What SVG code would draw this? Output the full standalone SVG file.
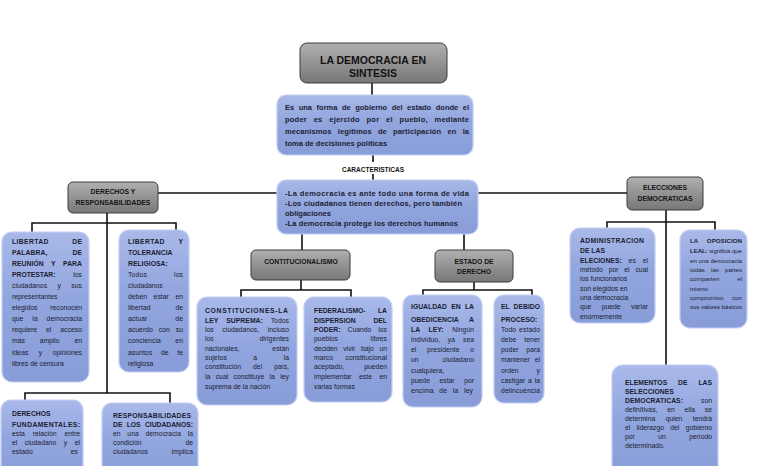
<svg xmlns="http://www.w3.org/2000/svg" width="768" height="466" viewBox="0 0 768 466">
<defs>
<linearGradient id="gb" x1="0" y1="0" x2="0" y2="1">
<stop offset="0" stop-color="#a9b9e9"/><stop offset="0.45" stop-color="#91a5de"/><stop offset="1" stop-color="#889cd8"/>
</linearGradient>
<linearGradient id="gg" x1="0" y1="0" x2="0" y2="1">
<stop offset="0" stop-color="#b0b0b0"/><stop offset="0.5" stop-color="#939393"/><stop offset="1" stop-color="#777777"/>
</linearGradient>
<style>
.bx{fill:url(#gb);stroke:#c2cef2;stroke-width:1.2}
.gx{fill:url(#gg);stroke:#3c3c3c;stroke-width:1}
.ln{stroke:#111;stroke-width:1.6;fill:none}
text{font-family:"Liberation Sans",Arial,sans-serif}
.t{font-size:6.8px;fill:#1a1d33}
.s{font-size:6.1px}
.h{font-weight:bold}
.d{font-size:7.5px;font-weight:bold;fill:#1c1f33}
.g{font-size:6.8px;font-weight:bold;fill:#141414;text-anchor:middle}
.ti{font-size:10.5px;font-weight:bold;fill:#111;text-anchor:middle}
</style>
</defs>
<rect width="768" height="466" fill="#ffffff"/>

<g id="connectors">
<line class="ln" x1="372" y1="83" x2="372" y2="95"/>
<line class="ln" x1="373" y1="155" x2="373" y2="162"/>
<line class="ln" x1="373" y1="174" x2="373" y2="180"/>
<line class="ln" x1="158" y1="193" x2="277" y2="193"/>
<line class="ln" x1="478" y1="193" x2="627" y2="193"/>
<line class="ln" x1="302" y1="234" x2="302" y2="250"/>
<line class="ln" x1="464" y1="234" x2="464" y2="250"/>
<line class="ln" x1="107" y1="213" x2="107" y2="393"/>
<polyline class="ln" points="32,232 32,223 176,223 176,230"/>
<polyline class="ln" points="25,400 25,393 170,393 170,403"/>
<line class="ln" x1="301" y1="280" x2="301" y2="290"/>
<polyline class="ln" points="241,297 241,290 351,290 351,297"/>
<line class="ln" x1="474" y1="282" x2="474" y2="290"/>
<polyline class="ln" points="423,295 423,290 532,290 532,295"/>
<line class="ln" x1="666" y1="210" x2="666" y2="365"/>
<polyline class="ln" points="607,228 607,222 715,222 715,230"/>
</g>

<g id="titulo">
<rect class="gx" x="300" y="43" width="147" height="40" rx="7"/>
<text class="ti" x="373" y="63.5">LA DEMOCRACIA EN</text>
<text class="ti" x="373" y="77">SINTESIS</text>
</g>

<g id="definicion">
<rect class="bx" x="277" y="95" width="196" height="60" rx="9"/>
<text class="d" x="285" y="110" textLength="184" style="word-spacing:2.5px">Es una forma de gobierno del estado donde el</text>
<text class="d" x="285" y="122" textLength="184" style="word-spacing:4.5px">poder es ejercido por el pueblo, mediante</text>
<text class="d" x="285" y="134" textLength="184" style="word-spacing:4px">mecanismos legítimos de participación en la</text>
<text class="d" x="285" y="146">toma de decisiones políticas</text>
</g>

<g id="caracteristicas-label">
<text class="g" x="373" y="171.5" style="font-size:6.5px">CARACTERISTICAS</text>
</g>

<g id="caracteristicas">
<rect class="bx" x="277" y="180" width="201" height="54" rx="9"/>
<text class="d" x="285" y="195.5" textLength="184">-La democracia es ante todo una forma de vida</text>
<text class="d" x="285" y="205.5" textLength="177">-Los ciudadanos tienen derechos, pero también</text>
<text class="d" x="285" y="215.5">obligaciones</text>
<text class="d" x="285" y="225.5" textLength="173">-La democracia protege los derechos humanos</text>
</g>

<g id="derechos">
<rect class="gx" x="68" y="182" width="90" height="31" rx="5"/>
<text class="g" x="113" y="194">DERECHOS Y</text>
<text class="g" x="113" y="205">RESPONSABILIDADES</text>
</g>

<g id="libertad-palabra">
<rect class="bx" x="2" y="232" width="87" height="150" rx="10"/>
<text class="t h" x="12" y="243.5" textLength="70" style="word-spacing:21px">LIBERTAD DE</text>
<text class="t h" x="12" y="254.6" textLength="70" style="word-spacing:23px">PALABRA, DE</text>
<text class="t h" x="12" y="265.7" textLength="70" style="word-spacing:5.5px">REUNIÓN Y PARA</text>
<text class="t" x="12" y="276.8" textLength="70" style="word-spacing:16px"><tspan class="h">PROTESTAR:</tspan> los</text>
<text class="t" x="12" y="287.9" textLength="70" style="word-spacing:8.5px">ciudadanos y sus</text>
<text class="t" x="12" y="299">representantes</text>
<text class="t" x="12" y="310.1" textLength="70" style="word-spacing:11px">elegidos reconocen</text>
<text class="t" x="12" y="321.2" textLength="70" style="word-spacing:7px">que la democracia</text>
<text class="t" x="12" y="332.3" textLength="70" style="word-spacing:7px">requiere el acceso</text>
<text class="t" x="12" y="343.4" textLength="70" style="word-spacing:13px">más amplio en</text>
<text class="t" x="12" y="354.5" textLength="70" style="word-spacing:8.5px">ideas y opiniones</text>
<text class="t" x="12" y="365.6">libres de censura</text>
</g>

<g id="libertad-religiosa">
<rect class="bx" x="119" y="230" width="70" height="142" rx="10"/>
<text class="t h" x="128" y="243.5" textLength="55" style="word-spacing:11.5px">LIBERTAD Y</text>
<text class="t h" x="128" y="254.6">TOLERANCIA</text>
<text class="t h" x="128" y="265.7">RELIGIOSA:</text>
<text class="t" x="128" y="276.8" textLength="55" style="word-spacing:25px">Todos los</text>
<text class="t" x="128" y="287.9">ciudadanos</text>
<text class="t" x="128" y="299" textLength="55" style="word-spacing:4.7px">deben estar en</text>
<text class="t" x="128" y="310.1" textLength="55" style="word-spacing:23px">libertad de</text>
<text class="t" x="128" y="321.2" textLength="55" style="word-spacing:26px">actuar de</text>
<text class="t" x="128" y="332.3" textLength="55" style="word-spacing:4px">acuerdo con su</text>
<text class="t" x="128" y="343.4" textLength="55" style="word-spacing:12.6px">conciencia en</text>
<text class="t" x="128" y="354.5" textLength="55" style="word-spacing:6.8px">asuntos de fe</text>
<text class="t" x="128" y="365.6">religiosa</text>
</g>

<g id="derechos-fundamentales">
<rect class="bx" x="1" y="400" width="82" height="90" rx="10"/>
<text class="t h" x="12" y="415.5">DERECHOS</text>
<text class="t h" x="12" y="426.5" textLength="68">FUNDAMENTALES:</text>
<text class="t" x="12" y="435.5" textLength="68" style="word-spacing:6px">esta relación entre</text>
<text class="t" x="12" y="444.5" textLength="68" style="word-spacing:5.5px">el ciudadano y el</text>
<text class="t" x="12" y="453.5" textLength="66" style="word-spacing:36px">estado es</text>
</g>

<g id="responsabilidades">
<rect class="bx" x="102" y="403" width="96" height="90" rx="10"/>
<text class="t h" x="113" y="417.5" textLength="78">RESPONSABILIDADES</text>
<text class="t h" x="113" y="427" textLength="80" style="word-spacing:2.5px">DE LOS CIUDADANOS:</text>
<text class="t" x="113" y="436" textLength="80" style="word-spacing:4.8px">en una democracia la</text>
<text class="t" x="113" y="445" textLength="80" style="word-spacing:42px">condición de</text>
<text class="t" x="113" y="454" textLength="80" style="word-spacing:22px">ciudadanos implica</text>
</g>

<g id="constitucionalismo">
<rect class="gx" x="251" y="250" width="99" height="30" rx="5"/>
<text class="g" x="301" y="263.5">CONTITUCIONALISMO</text>
</g>

<g id="constituciones">
<rect class="bx" x="197" y="297" width="100" height="108" rx="10"/>
<text class="t h" x="205" y="312.5" textLength="83">CONSTITUCIONES-LA</text>
<text class="t" x="205" y="322.5" textLength="84" style="word-spacing:6px"><tspan class="h">LEY SUPREMA:</tspan> Todos</text>
<text class="t" x="205" y="332" textLength="84" style="word-spacing:6.5px">los ciudadanos, incluso</text>
<text class="t" x="205" y="341" textLength="84" style="word-spacing:44px">los dirigentes</text>
<text class="t" x="205" y="351" textLength="84" style="word-spacing:31px">nacionales, están</text>
<text class="t" x="205" y="360" textLength="84" style="word-spacing:24.5px">sujetos a la</text>
<text class="t" x="205" y="369" textLength="84" style="word-spacing:10.2px">constitución del país,</text>
<text class="t" x="205" y="379" textLength="84" style="word-spacing:3.5px">la cual constituye la ley</text>
<text class="t" x="205" y="389">suprema de la nación</text>
</g>

<g id="federalismo">
<rect class="bx" x="304" y="297" width="88" height="105" rx="10"/>
<text class="t h" x="314" y="312.5" textLength="73" style="word-spacing:10.5px">FEDERALISMO- LA</text>
<text class="t h" x="314" y="322.5" textLength="73" style="word-spacing:16px">DISPERSION DEL</text>
<text class="t" x="314" y="332" textLength="73" style="word-spacing:5px"><tspan class="h">PODER:</tspan> Cuando los</text>
<text class="t" x="314" y="341" textLength="73" style="word-spacing:30.6px">pueblos libres</text>
<text class="t" x="314" y="351" textLength="73" style="word-spacing:3.9px">deciden vivir bajo un</text>
<text class="t" x="314" y="360" textLength="73" style="word-spacing:10.5px">marco constitucional</text>
<text class="t" x="314" y="369" textLength="73" style="word-spacing:18px">aceptado, pueden</text>
<text class="t" x="314" y="379" textLength="73" style="word-spacing:5.5px">implementar este en</text>
<text class="t" x="314" y="389">varias formas</text>
</g>

<g id="estado-derecho">
<rect class="gx" x="435" y="250" width="78" height="32" rx="5"/>
<text class="g" x="474" y="263.5">ESTADO DE</text>
<text class="g" x="474" y="274">DERECHO</text>
</g>

<g id="igualdad">
<rect class="bx" x="403" y="295" width="79" height="112" rx="10"/>
<text class="t h" x="411" y="309" textLength="63" style="word-spacing:2.4px">IGUALDAD EN LA</text>
<text class="t h" x="411" y="321.5" textLength="63" style="word-spacing:9px">OBEDICENCIA A</text>
<text class="t" x="411" y="332" textLength="63" style="word-spacing:6.6px"><tspan class="h">LA LEY:</tspan> Ningún</text>
<text class="t" x="411" y="342" textLength="63" style="word-spacing:6px">individuo, ya sea</text>
<text class="t" x="411" y="352" textLength="63" style="word-spacing:8.7px">el presidente o</text>
<text class="t" x="411" y="362" textLength="63" style="word-spacing:22px">un ciudadano</text>
<text class="t" x="411" y="372.5">cualquiera,</text>
<text class="t" x="411" y="382.5" textLength="63" style="word-spacing:7.6px">puede estar por</text>
<text class="t" x="411" y="392.5" textLength="62" style="word-spacing:3.6px">encima de la ley</text>
</g>

<g id="debido-proceso">
<rect class="bx" x="494" y="295" width="50" height="108" rx="10"/>
<text class="t h" x="501" y="309" textLength="39" style="word-spacing:2px">EL DEBIDO</text>
<text class="t h" x="501" y="321.5">PROCESO:</text>
<text class="t" x="501" y="332" textLength="39" style="word-spacing:1px">Todo estado</text>
<text class="t" x="501" y="342" textLength="39" style="word-spacing:6px">debe tener</text>
<text class="t" x="501" y="352" textLength="39" style="word-spacing:6px">poder para</text>
<text class="t" x="501" y="362" textLength="39" style="word-spacing:3px">mantener el</text>
<text class="t" x="501" y="372.5" textLength="39" style="word-spacing:16px">orden y</text>
<text class="t" x="501" y="382.5" textLength="39" style="word-spacing:1px">castigar a la</text>
<text class="t" x="501" y="392.5" textLength="39">delincuencia</text>
</g>

<g id="elecciones">
<rect class="gx" x="627" y="177" width="76" height="33" rx="5"/>
<text class="g" x="665" y="189.5">ELECCIONES</text>
<text class="g" x="665" y="200.5">DEMOCRATICAS</text>
</g>

<g id="administracion">
<rect class="bx" x="570" y="228" width="85" height="95" rx="10"/>
<text class="t h" x="580" y="243" textLength="64">ADMINISTRACION</text>
<text class="t h" x="580" y="252.5">DE LAS</text>
<text class="t" x="580" y="262.5" textLength="68" style="word-spacing:5px"><tspan class="h">ELECIONES:</tspan> es el</text>
<text class="t" x="580" y="272" textLength="68" style="word-spacing:3.8px">método por el cual</text>
<text class="t" x="580" y="281">los funcionarios</text>
<text class="t" x="580" y="291">son elegidos en</text>
<text class="t" x="580" y="300">una democracia</text>
<text class="t" x="580" y="309" textLength="68" style="word-spacing:8.3px">que puede variar</text>
<text class="t" x="580" y="318.5">enormemente</text>
</g>

<g id="oposicion">
<rect class="bx" x="680" y="230" width="67" height="98" rx="10"/>
<text class="t s h" x="690" y="243" textLength="52" style="word-spacing:7px">LA OPOSICION</text>
<text class="t s" x="690" y="252.5" textLength="52"><tspan class="h">LEAL:</tspan> significa que</text>
<text class="t s" x="690" y="262.5" textLength="52">en una democracia</text>
<text class="t s" x="690" y="272" textLength="52" style="word-spacing:4.5px">todas las partes</text>
<text class="t s" x="690" y="281" textLength="52" style="word-spacing:16px">comparten el</text>
<text class="t s" x="690" y="291">mismo</text>
<text class="t s" x="690" y="300" textLength="52" style="word-spacing:7px">compromiso con</text>
<text class="t s" x="690" y="309" textLength="52">sus valores básicos</text>
</g>

<g id="elementos">
<rect class="bx" x="612" y="365" width="106" height="120" rx="11"/>
<text class="t h" x="625" y="385" textLength="87" style="word-spacing:9px">ELEMENTOS DE LAS</text>
<text class="t h" x="625" y="394">SELECCIONES</text>
<text class="t" x="625" y="402.5" textLength="87" style="word-spacing:16px"><tspan class="h">DEMOCRATICAS:</tspan> son</text>
<text class="t" x="625" y="412" textLength="87" style="word-spacing:7.7px">definitivas, en ella se</text>
<text class="t" x="625" y="420.5" textLength="87" style="word-spacing:8.6px">determina quien tendrá</text>
<text class="t" x="625" y="429.5" textLength="87" style="word-spacing:4.5px">el liderazgo del gobierno</text>
<text class="t" x="625" y="438.5" textLength="87" style="word-spacing:21.5px">por un periodo</text>
<text class="t" x="625" y="447.5">determinado.</text>
</g>
</svg>
